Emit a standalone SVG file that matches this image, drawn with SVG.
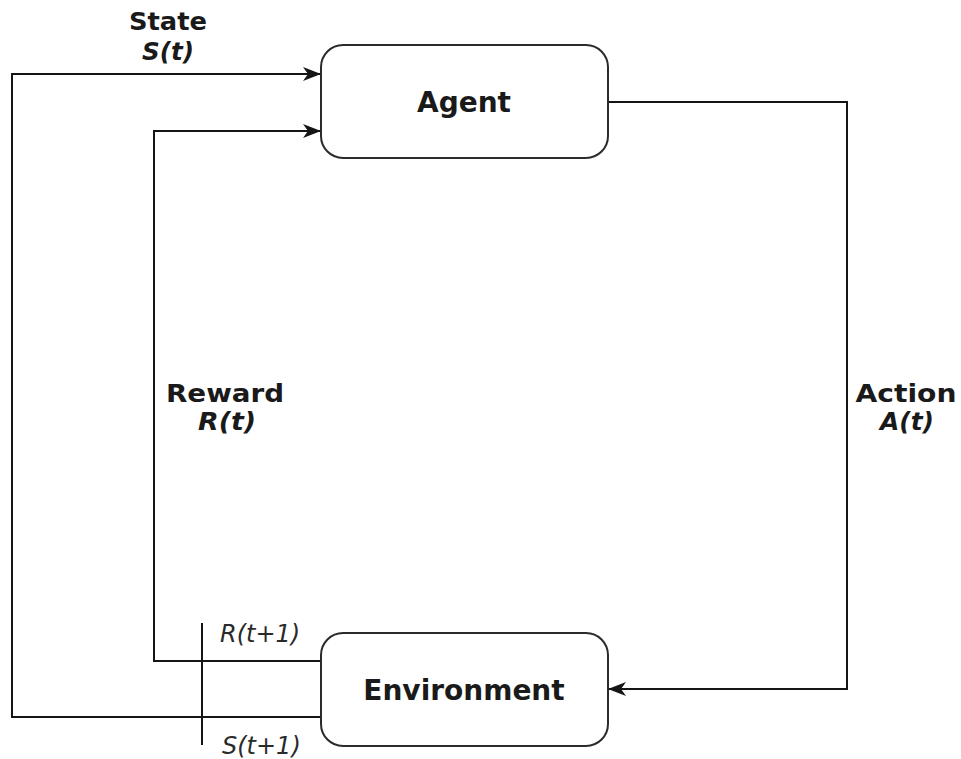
<svg xmlns="http://www.w3.org/2000/svg" width="961" height="759" viewBox="0 0 961 759">
  <defs>
    <style>
      .box { fill: #ffffff; stroke: #2b2b2b; stroke-width: 2; }
      .edge { fill: none; stroke: #151515; stroke-width: 2; }
      .title { font-family: "DejaVu Sans", Verdana, sans-serif; font-weight: bold; font-size: 28px; fill: #1a1a1a; text-anchor: middle; }
      .head { font-family: "DejaVu Sans", Verdana, sans-serif; font-weight: bold; font-size: 25px; fill: #1a1a1a; text-anchor: middle; }
      .var { font-family: "DejaVu Sans", Verdana, sans-serif; font-weight: bold; font-style: italic; font-size: 24px; fill: #1a1a1a; text-anchor: middle; }
      .sub { font-family: "DejaVu Sans", Verdana, sans-serif; font-style: italic; font-size: 24px; fill: #2a2a2a; }
    </style>
    <marker id="arrow" viewBox="0 0 18 14" refX="17" refY="7" markerWidth="18" markerHeight="14" markerUnits="userSpaceOnUse" orient="auto">
      <path d="M0,0 L18,7 L0,14 L5,7 Z" fill="#151515"/>
    </marker>
  </defs>

  <!-- connectors -->
  <g id="connectors">
    <!-- state feedback: environment -> agent -->
    <path class="edge" d="M321,717 H12 V74 H320" marker-end="url(#arrow)"/>
    <!-- reward feedback: environment -> agent -->
    <path class="edge" d="M321,661 H154 V131 H320" marker-end="url(#arrow)"/>
    <!-- action: agent -> environment -->
    <path class="edge" d="M608,102 H847 V689 H609" marker-end="url(#arrow)"/>
    <!-- time-step divider -->
    <line class="edge" x1="202" y1="623" x2="202" y2="745"/>
  </g>

  <!-- nodes -->
  <g id="agent">
    <rect class="box" x="321" y="45" width="287" height="113" rx="22" ry="22"/>
    <text class="title" x="464" y="112">Agent</text>
  </g>

  <g id="environment">
    <rect class="box" x="321" y="633" width="287" height="113" rx="22" ry="22"/>
    <text class="title" x="464" y="700">Environment</text>
  </g>

  <!-- edge labels -->
  <g id="labels">
    <text class="head" x="168" y="30" textLength="78" lengthAdjust="spacingAndGlyphs">State</text>
    <text class="var" x="168" y="60" textLength="52" lengthAdjust="spacingAndGlyphs">S(t)</text>

    <text class="head" x="225" y="402" textLength="118" lengthAdjust="spacingAndGlyphs">Reward</text>
    <text class="var" x="227" y="430" textLength="58" lengthAdjust="spacingAndGlyphs">R(t)</text>

    <text class="head" x="906" y="402" textLength="101" lengthAdjust="spacingAndGlyphs">Action</text>
    <text class="var" x="907" y="430" textLength="54" lengthAdjust="spacingAndGlyphs">A(t)</text>

    <text class="sub" x="220" y="642">R(t+1)</text>
    <text class="sub" x="222" y="754">S(t+1)</text>
  </g>
</svg>
